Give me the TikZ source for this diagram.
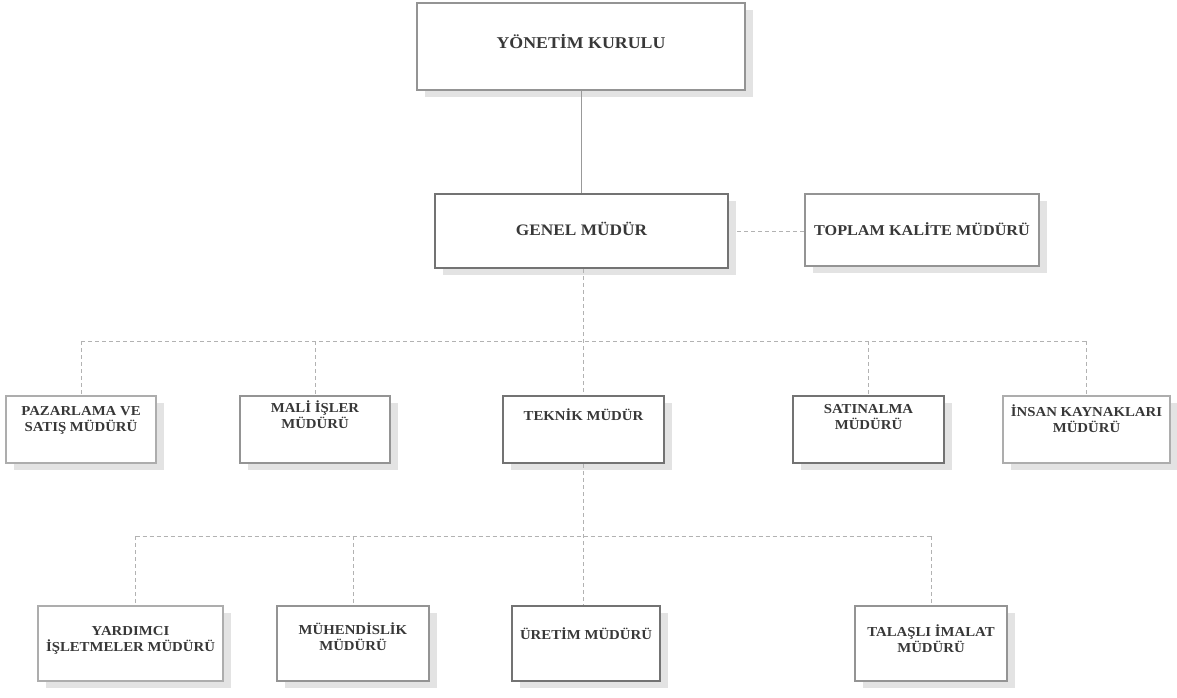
\documentclass[tikz,border=0pt]{standalone}
\usepackage{fontspec}
\setmainfont{Liberation Serif}
\newfontfamily\lblfont[FakeStretch=1.08]{Liberation Serif}
\usetikzlibrary{shadows,calc}
\tikzset{
  orgbox/.style={rectangle, draw=black!42, line width=1.8pt, fill=white, inner sep=0pt,
    drop shadow={shadow xshift=8pt, shadow yshift=-7pt, fill=black!11, opacity=1}},
  heavybox/.style={orgbox, draw=black!55, line width=2.8pt},
  lightbox/.style={orgbox, draw=black!32, line width=1.5pt},
  lbl/.style={anchor=base, inner sep=0pt, align=center, text=black!78,
    font=\lblfont\bfseries\fontsize{13.7}{16}\selectfont},
  solidlink/.style={draw=black!40, line width=0.8pt},
  dashlink/.style={draw=black!30, line width=0.8pt, dash pattern=on 4pt off 3pt},
}
\begin{document}
\begin{tikzpicture}[x=1pt, y=-1pt]
\path[use as bounding box, fill=white] (0,0) rectangle (1177,698);

% level 0 and 1
\node[orgbox, minimum width=328pt, minimum height=87pt] (yk) at (581,46.5) {};
\node[heavybox, minimum width=293pt, minimum height=74pt] (gm) at (581.5,231) {};
\node[orgbox, minimum width=234pt, minimum height=72pt] (tk) at (922,230) {};

% level 2
\node[lightbox, minimum width=150pt, minimum height=67pt] (pz) at (81,429.5) {};
\node[orgbox,   minimum width=150pt, minimum height=67pt] (mi) at (315,429.5) {};
\node[heavybox, minimum width=161pt, minimum height=67pt] (tm) at (583.5,429.5) {};
\node[heavybox, minimum width=151pt, minimum height=67pt] (sa) at (868.5,429.5) {};
\node[lightbox, minimum width=167pt, minimum height=67pt] (ik) at (1086.5,429.5) {};

% level 3
\node[lightbox, minimum width=185pt, minimum height=75pt] (ya) at (130.5,643.5) {};
\node[orgbox,   minimum width=152pt, minimum height=75pt] (mu) at (353,643.5) {};
\node[heavybox, minimum width=148pt, minimum height=75pt] (ur) at (586,643.5) {};
\node[orgbox,   minimum width=152pt, minimum height=75pt] (ta) at (931,643.5) {};

% labels (anchor = baseline of the last line)
\node[lbl, font=\lblfont\bfseries\fontsize{16.5}{19}\selectfont] (yk-t) at ([yshift=-46.5pt]yk.north) {YÖNETİM KURULU};
\node[lbl, font=\lblfont\bfseries\fontsize{16}{19}\selectfont] (gm-t) at ([yshift=-43pt]gm.north) {GENEL MÜDÜR};
\node[lbl, font=\lblfont\bfseries\fontsize{15}{18}\selectfont] (tk-t) at ([yshift=-42pt]tk.north) {TOPLAM KALİTE MÜDÜRÜ};

\node[lbl] (pz-t) at ([yshift=-36pt]pz.north) {PAZARLAMA VE\\SATIŞ MÜDÜRÜ};
\node[lbl] (mi-t) at ([yshift=-33pt]mi.north) {MALİ İŞLER\\MÜDÜRÜ};
\node[lbl] (tm-t) at ([yshift=-25.5pt]tm.north) {TEKNİK MÜDÜR};
\node[lbl] (sa-t) at ([yshift=-35pt]sa.north) {SATINALMA\\MÜDÜRÜ};
\node[lbl] (ik-t) at ([yshift=-37pt]ik.north) {İNSAN KAYNAKLARI\\MÜDÜRÜ};

\node[lbl] (ya-t) at ([yshift=-46pt]ya.north) {YARDIMCI\\İŞLETMELER MÜDÜRÜ};
\node[lbl] (mu-t) at ([yshift=-45pt]mu.north) {MÜHENDİSLİK\\MÜDÜRÜ};
\node[lbl] (ur-t) at ([yshift=-34.5pt]ur.north) {ÜRETİM MÜDÜRÜ};
\node[lbl] (ta-t) at ([yshift=-47pt]ta.north) {TALAŞLI İMALAT\\MÜDÜRÜ};

% connectors
\draw[solidlink] (yk.south) -- (yk.south |- gm.north);
\draw[dashlink] ([xshift=8pt]gm.east) -- (gm.east -| tk.west);

\coordinate (j1) at ($(gm.south)+(0,72)$);
\draw[dashlink] (gm.south -| tm.north) -- (tm.north);
\draw[dashlink] (pz.north |- j1) -- (ik.north |- j1);
\draw[dashlink] (pz.north |- j1) -- (pz.north);
\draw[dashlink] (mi.north |- j1) -- (mi.north);
\draw[dashlink] (sa.north |- j1) -- (sa.north);
\draw[dashlink] (ik.north |- j1) -- (ik.north);

\coordinate (j2) at ($(tm.south)+(0,72)$);
\draw[dashlink] (tm.south) -- (tm.south |- ur.north);
\draw[dashlink] ([xshift=5pt]ya.north |- j2) -- (ta.north |- j2);
\draw[dashlink] ([xshift=5pt]ya.north |- j2) -- ([xshift=5pt]ya.north);
\draw[dashlink] (mu.north |- j2) -- (mu.north);
\draw[dashlink] (ta.north |- j2) -- (ta.north);
\end{tikzpicture}
\end{document}
